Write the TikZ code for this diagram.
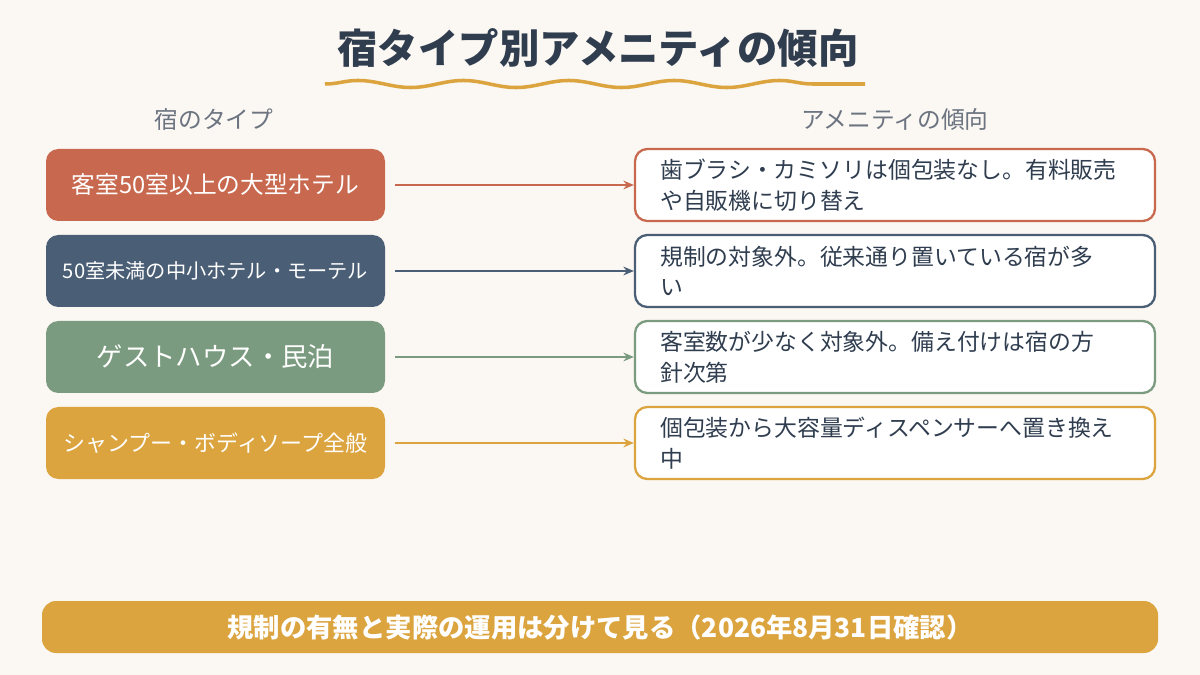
\documentclass[tikz,border=0pt]{standalone}
\usepackage{fontspec}
\setmainfont{Noto Sans CJK JP}
\usetikzlibrary{decorations.pathmorphing,arrows.meta}
\definecolor{bg}{HTML}{FBF7F2}
\definecolor{cA}{HTML}{C8694F}
\definecolor{cB}{HTML}{4A5E75}
\definecolor{cC}{HTML}{7A9B7F}
\definecolor{cD}{HTML}{DBA43F}
\definecolor{ink}{HTML}{2F3D4F}
\definecolor{gr}{HTML}{6B7480}
\begin{document}
\begin{tikzpicture}[x=0.02cm,y=-0.02cm,
 lbox/.style={rounded corners=7pt,minimum width=339*0.02cm,minimum height=72*0.02cm,text=white,inner sep=0pt},
 rbox/.style={draw,line width=1.3pt,fill=white,rounded corners=7pt,minimum width=520*0.02cm,minimum height=72*0.02cm,inner sep=0pt},
 rtxt/.style={anchor=west,align=left,text=ink,font=\fontsize{13}{17.5}\selectfont},
 arr/.style={-{Stealth[length=6pt,width=5pt]},line width=0.8pt}]
\fill[bg] (0,0) rectangle (1200,675);
\node[font=\bfseries\fontsize{23}{26}\selectfont,text=ink] (title) at (598,48) {宿タイプ別アメニティの傾向};
\draw[cD,line width=2pt,decorate,decoration={snake,amplitude=2pt,segment length=60pt}] (325,84) -- (865,84);
\node[font=\fontsize{13.5}{15}\selectfont,text=gr] (h1) at (214,120) {宿のタイプ};
\node[font=\fontsize{13.5}{15}\selectfont,text=gr] (h2) at (895,120) {アメニティの傾向};
\foreach \i/\c/\y/\f/\t/\r in {
 1/cA/185/\fontsize{13.5}{15}\selectfont/客室50室以上の大型ホテル/{歯ブラシ・カミソリは個包装なし。有料販売\\や自販機に切り替え},
 2/cB/271/\fontsize{11.5}{13}\selectfont/50室未満の中小ホテル・モーテル/{規制の対象外。従来通り置いている宿が多\\い},
 3/cC/357/\fontsize{15}{18}\selectfont/ゲストハウス・民泊/{客室数が少なく対象外。備え付けは宿の方\\針次第},
 4/cD/443/\fontsize{12.5}{14}\selectfont/シャンプー・ボディソープ全般/{個包装から大容量ディスペンサーへ置き換え\\中}}{
 \node[lbox,fill=\c,font=\f] (L\i) at (215.5,\y) {\t};
 \node[rbox,draw=\c] (R\i) at (895,\y) {};
 \node[rtxt] (T\i) at (654,\y) {\r};
 \draw[arr,\c] (395,\y) -- (R\i.west);
}
\node[fill=cD,rounded corners=8pt,minimum width=1116*0.02cm,minimum height=52*0.02cm,text=white,font=\bfseries\fontsize{15}{17}\selectfont] (foot) at (600,627) {規制の有無と実際の運用は分けて見る（2026年8月31日確認）};
\end{tikzpicture}
\end{document}
